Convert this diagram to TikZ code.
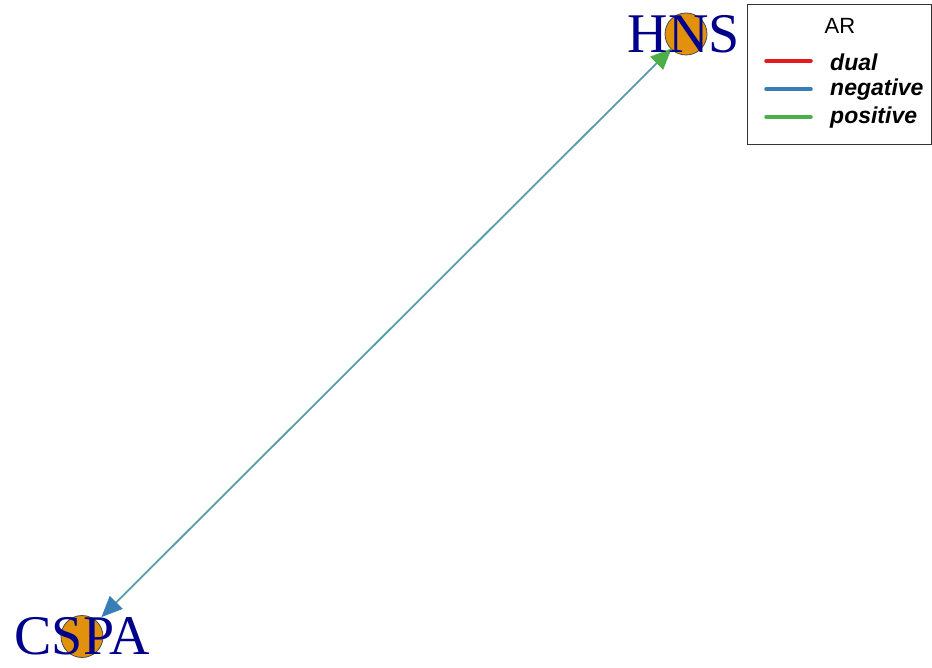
\documentclass[tikz,border=0pt]{standalone}
\usepackage{fontspec}
\setmainfont{Liberation Serif}
\newfontfamily\legfont{Liberation Sans}
\usetikzlibrary{arrows.meta}
\definecolor{nodefill}{RGB}{225,145,12}
\definecolor{labelblue}{RGB}{0,0,139}
\definecolor{edgeteal}{RGB}{88,158,168}
\definecolor{arred}{RGB}{228,26,28}
\definecolor{arblue}{RGB}{55,126,184}
\definecolor{argreen}{RGB}{77,175,74}
\tikzset{
  gene/.style={circle, fill=nodefill, draw=black!70, line width=0.8pt, minimum size=42pt, inner sep=0pt},
  genelabel/.style={text=labelblue, font=\fontsize{56}{56}\selectfont, inner sep=0pt},
  edgeline/.style={draw=edgeteal, line width=1.8pt},
  legkey/.style={line width=3.5pt, line cap=round},
  legtext/.style={font=\legfont\bfseries\itshape\fontsize{23}{23}\selectfont, anchor=west, inner sep=0pt},
}
\begin{document}
\begin{tikzpicture}[x=1pt,y=-1pt]
\useasboundingbox (0,0) rectangle (932,668);
% nodes
\node[gene] (h) at (686,34) {};
\node[gene] (c) at (82,636.5) {};
% edge
\draw[edgeline, shorten <=6pt, shorten >=-1pt,
  {Triangle[color=arblue,length=21pt,width=18pt]}-{Triangle[color=argreen,length=21pt,width=18pt]}]
  (c) -- (h);
% labels
\node[genelabel] (hl) at (684,34) {HNS};
\node[genelabel] (cl) at (82,636.5) {CSPA};
% legend
\node[draw=black!80, line width=1.2pt, minimum width=184pt, minimum height=140pt, inner sep=0pt, anchor=north west] (leg) at (747,4) {};
\node[font=\legfont\fontsize{22}{22}\selectfont, inner sep=0pt] (legt) at (840,26) {AR};
\coordinate (r1) at (766,61);
\coordinate (r2) at (811,61);
\coordinate (b1) at (766,89);
\coordinate (b2) at (811,89);
\coordinate (g1) at (766,117);
\coordinate (g2) at (811,117);
\draw[legkey, arred] (r1) -- (r2);
\draw[legkey, arblue] (b1) -- (b2);
\draw[legkey, argreen] (g1) -- (g2);
\node[legtext] (t1) at (830,62) {dual};
\node[legtext] (t2) at (830,90) {negative};
\node[legtext] (t3) at (830,118) {positive};
\end{tikzpicture}
\end{document}
